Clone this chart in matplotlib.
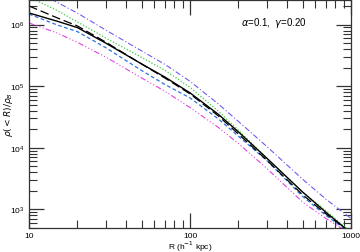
import matplotlib
matplotlib.use("Agg")
import matplotlib.pyplot as plt
from matplotlib.ticker import LogLocator, NullFormatter, FixedLocator, FixedFormatter

plt.rcParams["font.family"] = ["Liberation Sans", "DejaVu Sans"]
plt.rcParams["mathtext.fontset"] = "dejavusans"

# radius (h^-1 kpc)
R = [10, 15, 20, 30, 50, 70, 100, 150, 200, 300, 500, 700, 1000]

# mean interior overdensity rho(<R)/rho_B for each model
rho_violet = [4.06e6, 2.28e6, 1.53e6, 8.12e5, 3.74e5, 2.25e5, 1.20e5, 5.14e4, 2.67e4, 1.05e4, 3.10e3, 1.46e3, 715]
rho_green = [2.80e6, 1.68e6, 1.10e6, 6.04e5, 2.94e5, 1.80e5, 9.57e4, 3.93e4, 1.92e4, 6.81e3, 1.92e3, 950, 429]
rho_black = [1.54e6, 1.13e6, 8.91e5, 4.99e5, 2.30e5, 1.40e5, 7.79e4, 3.49e4, 1.81e4, 6.78e3, 1.92e3, 895, 413]
rho_black_dash = [2.00e6, 1.28e6, 9.46e5, 5.18e5, 2.29e5, 1.35e5, 7.50e4, 3.29e4, 1.67e4, 6.29e3, 1.73e3, 843, 421]
rho_blue = [1.48e6, 9.82e5, 7.67e5, 4.21e5, 1.80e5, 1.06e5, 6.46e4, 2.94e4, 1.54e4, 6.22e3, 1.63e3, 796, 409]
rho_magenta = [1.06e6, 7.28e5, 5.13e5, 2.96e5, 1.36e5, 8.24e4, 4.50e4, 2.14e4, 1.17e4, 4.63e3, 1.32e3, 710, 397]

fig = plt.figure(figsize=(3.6, 2.53), dpi=100)
ax = fig.add_axes([0.0806, 0.0949, 0.8944, 0.9011])

ax.plot(R, rho_violet, color="#6f5cf0", lw=0.8, ls=(0, (5, 2, 1, 2)))
ax.plot(R, rho_green, color="#3fcf3f", lw=0.9, ls=(0, (1, 1.5)))
ax.plot(R, rho_blue, color="#2f72e0", lw=0.9, ls=(0, (3, 2)))
ax.plot(R, rho_magenta, color="#e040e0", lw=0.8, ls=(0, (5, 2, 1, 2, 1, 2, 1, 2)))
ax.plot(R, rho_black_dash, color="black", lw=0.9, ls=(0, (7, 3)))
ax.plot(R, rho_black, color="black", lw=1.0)

ax.set_xscale("log")
ax.set_yscale("log")
ax.set_xlim(10, 1000)
ax.set_ylim(500, 2.5e6)

ax.xaxis.set_major_locator(FixedLocator([10, 100, 1000]))
ax.xaxis.set_major_formatter(FixedFormatter(["10", "100", "1000"]))
ax.xaxis.set_minor_locator(LogLocator(base=10, subs=range(2, 10)))
ax.xaxis.set_minor_formatter(NullFormatter())
ax.yaxis.set_major_locator(LogLocator(base=10))
ax.yaxis.set_minor_locator(LogLocator(base=10, subs=range(2, 10)))
ax.yaxis.set_minor_formatter(NullFormatter())

ax.tick_params(which="both", direction="in", top=True, right=True, labelsize=6, color="#333333")
ax.tick_params(axis="x", which="both", pad=3)
ax.tick_params(axis="y", which="both", pad=3)
ax.tick_params(which="major", length=11, width=0.9)
ax.tick_params(which="minor", length=5.5, width=0.8)
for s in ax.spines.values():
    s.set_linewidth(0.9)
    s.set_color("#333333")

ax.set_xlabel(r"R (h$^{-1}$ kpc)", fontsize=6)
ax.xaxis.set_label_coords(0.5, -0.077)
ax.xaxis.label.set_va("center")
ax.set_ylabel(r"$\rho(<R)/\rho_B$", fontsize=6.5)
ax.yaxis.set_label_coords(-0.065, 0.5)
ax.yaxis.label.set_va("center")

ax.text(0.76, 0.905, r"$\alpha$=0.1,  $\gamma$=0.20", transform=ax.transAxes,
        fontsize=7, ha="center", va="center")

fig.savefig("out.png", dpi=100)
